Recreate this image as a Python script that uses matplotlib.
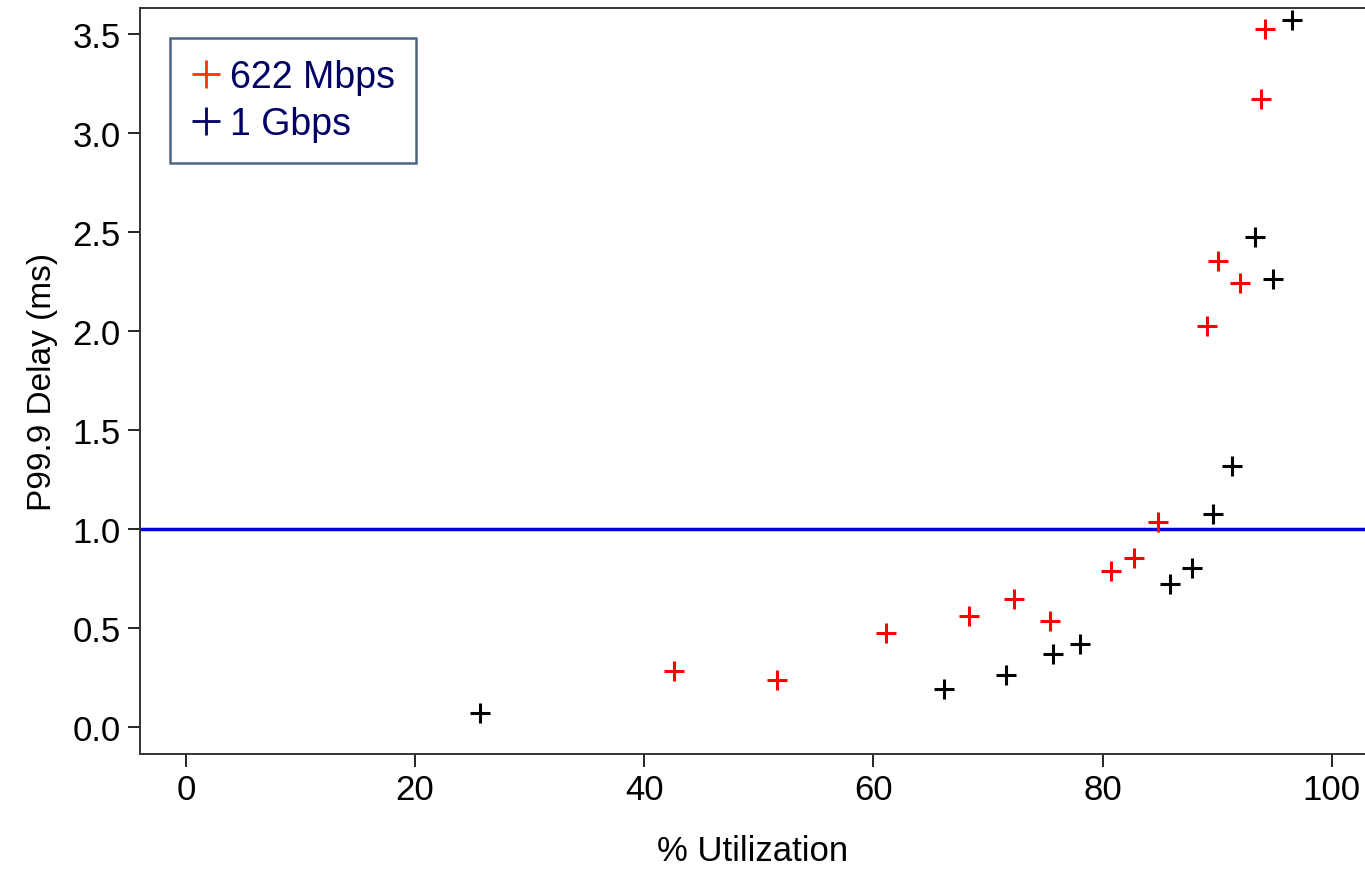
import matplotlib.pyplot as plt
from matplotlib.lines import Line2D

plt.rcParams['font.family'] = ['Liberation Sans', 'DejaVu Sans']

# 622 Mbps link
util_622 = [42.6, 51.6, 61.1, 68.3, 72.3, 75.4, 80.7, 82.7, 84.8, 89.1, 90.1, 92.0, 93.8, 94.2]
delay_622 = [0.284, 0.239, 0.476, 0.562, 0.648, 0.537, 0.789, 0.855, 1.037, 2.025, 2.355, 2.244, 3.173, 3.527]

# 1 Gbps link
util_1g = [25.7, 66.2, 71.6, 75.7, 78.0, 85.9, 87.8, 89.6, 91.3, 93.3, 94.9, 96.5]
delay_1g = [0.072, 0.193, 0.264, 0.370, 0.421, 0.724, 0.805, 1.077, 1.319, 2.476, 2.264, 3.573]

threshold = 1.0
x_ticks = [0, 20, 40, 60, 80, 100]
y_ticks = [0.0, 0.5, 1.0, 1.5, 2.0, 2.5, 3.0, 3.5]

fig = plt.figure(figsize=(13.65, 8.7), dpi=100)
ax = fig.add_axes([140 / 1365, 115 / 870, 1225 / 1365, 745.7 / 870])

ax.axhline(threshold, color='#0000ee', lw=2.5, zorder=1)
ax.plot(util_622, delay_622, ls='none', marker='+', color='#ff0000', ms=14, mew=2.2, zorder=3)
ax.plot(util_1g, delay_1g, ls='none', marker='+', color='black', ms=14, mew=2.2, zorder=3)

ax.set_xlim(-4.0, 102.9)
ax.set_ylim(-0.135, 3.631)
ax.set_xticks(x_ticks)
ax.set_yticks(y_ticks)
ax.set_yticklabels([f'{v:.1f}' for v in y_ticks])
ax.tick_params(direction='out', length=9, width=1.2, labelsize=25, pad=5, colors='black')
ax.spines['right'].set_visible(False)
for s in ['left', 'bottom', 'top']:
    ax.spines[s].set_linewidth(1.4)
    ax.spines[s].set_color('#333333')

ax.set_xlabel('% Utilization', fontsize=25, labelpad=20)
ax.set_ylabel('P99.9 Delay (ms)', fontsize=24, labelpad=10)

handles = [
    Line2D([], [], ls='none', marker='+', color='#ff3300', ms=20, mew=2),
    Line2D([], [], ls='none', marker='+', color='#000066', ms=20, mew=2),
]
leg = ax.legend(handles, ['622 Mbps', '1 Gbps'], loc='upper left',
                bbox_to_anchor=(30 / 1225, 1 - 30 / 745.7),
                fontsize=27, frameon=True, fancybox=False, handlelength=0.8,
                handletextpad=0.25, borderpad=0.55, labelspacing=0.3,
                borderaxespad=0)
leg.get_frame().set_edgecolor('#1f3f66')
leg.get_frame().set_linewidth(1.8)
for t in leg.get_texts():
    t.set_color('#000066')

fig.savefig('out.png', dpi=100)
